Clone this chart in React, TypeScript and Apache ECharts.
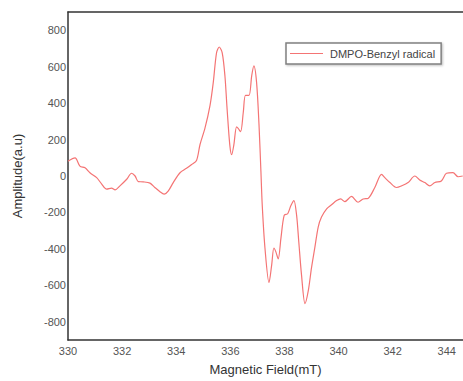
import React, { useEffect, useRef } from "react";
import * as echarts from "echarts";

const fieldMT: number[] = [
  330.0, 330.26, 330.44, 330.63, 330.81, 331.06, 331.24, 331.43, 331.61, 331.74,
  331.92, 332.17, 332.35, 332.48, 332.6, 332.78, 333.03, 333.21, 333.4, 333.55,
  333.71, 333.89, 334.14, 334.38, 334.57, 334.75, 334.88, 335.06, 335.25, 335.37,
  335.49, 335.59, 335.7, 335.8, 335.88, 335.98, 336.05, 336.13, 336.23, 336.29,
  336.38, 336.48, 336.56, 336.69, 336.79, 336.87, 336.97, 337.06, 337.13, 337.18,
  337.28, 337.43, 337.53, 337.61, 337.68, 337.77, 337.87, 337.99, 338.12, 338.24,
  338.35, 338.45, 338.53, 338.63, 338.76, 338.88, 339.0, 339.12, 339.25, 339.37,
  339.56, 339.74, 339.93, 340.08, 340.23, 340.48, 340.72, 340.91, 341.09, 341.34,
  341.59, 341.71, 341.9, 342.14, 342.33, 342.57, 342.82, 343.0, 343.19, 343.37,
  343.56, 343.8, 343.99, 344.23, 344.42, 344.59,
];

const amplitude: number[] = [
  81, 99, 54, 45, 18, -9, -43, -72, -66, -76,
  -54, -18, 15, 0, -31, -32, -39, -63, -86, -99,
  -81, -36, 18, 42, 63, 85, 173, 261, 388, 514,
  676, 708, 676, 550, 369, 171, 117, 171, 270, 261,
  243, 351, 442, 442, 550, 604, 514, 281, 27, -162,
  -395, -585, -486, -395, -415, -455, -342, -216, -207, -162,
  -135, -216, -361, -541, -700, -631, -504, -396, -279, -225,
  -180, -158, -135, -126, -141, -112, -144, -126, -123, -63,
  9, -9, -36, -63, -54, -36, 0, -22, -36, -54,
  -36, -27, 15, 18, -4, 0,
];

const seriesName = "DMPO-Benzyl radical";
const xTicks = { min: 330, max: 344.6, interval: 2 };
const yTicks = { min: -900, max: 900, interval: 100, labelStep: 200 };

export default function App() {
  const ref = useRef<HTMLDivElement>(null);
  useEffect(() => {
    if (!ref.current) return;
    const chart = echarts.init(ref.current, undefined, { renderer: "svg" });
    const font = "Liberation Sans, Arial, sans-serif";
    chart.setOption({
      animation: false,
      backgroundColor: "#ffffff",
      textStyle: { fontFamily: font },
      grid: { left: 68, top: 12, right: 0, bottom: 34, containLabel: false },
      legend: {
        show: true,
        left: 286,
        top: 43,
        orient: "horizontal",
        data: [{ name: seriesName, icon: "rect" }],
        itemWidth: 33,
        itemHeight: 1.2,
        itemGap: 4,
        padding: [5, 6, 5, 4],
        borderColor: "#808080",
        borderWidth: 1.5,
        shadowColor: "rgba(0,0,0,0.25)",
        shadowBlur: 2,
        shadowOffsetX: 1,
        shadowOffsetY: 1,
        backgroundColor: "#fff",
        textStyle: { fontSize: 11, color: "#444", fontFamily: font, padding: [0, 0, 0, 2] },
      },
      xAxis: [
        {
          type: "value",
          min: xTicks.min,
          max: xTicks.max,
          interval: xTicks.interval,
          name: "Magnetic Field(mT)",
          nameLocation: "middle",
          nameGap: 23,
          nameTextStyle: { fontSize: 13, color: "#333", fontFamily: font },
          axisLine: { show: true, onZero: false, lineStyle: { color: "#333", width: 1.5 } },
          axisTick: { show: false },
          splitLine: { show: false },
          axisLabel: {
            fontSize: 11,
            color: "#555",
            margin: 5,
            showMaxLabel: false,
            formatter: (v: number) => String(Math.round(v)),
          },
        },
        {
          type: "value",
          position: "top",
          min: xTicks.min,
          max: xTicks.max,
          axisLine: { show: true, onZero: false, lineStyle: { color: "#333", width: 1.5 } },
          axisTick: { show: false },
          axisLabel: { show: false },
          splitLine: { show: false },
        },
      ],
      yAxis: {
        type: "value",
        min: yTicks.min,
        max: yTicks.max,
        interval: yTicks.interval,
        name: "Amplitude(a.u)",
        nameLocation: "middle",
        nameGap: 44,
        nameTextStyle: { fontSize: 13, color: "#333", fontFamily: font },
        axisLine: { show: true, onZero: false, lineStyle: { color: "#333", width: 1.5 } },
        axisTick: { show: false },
        splitLine: { show: false },
        axisLabel: {
          fontSize: 11,
          color: "#555",
          margin: 2,
          formatter: (v: number) =>
            Math.abs(v) % yTicks.labelStep === 0 && Math.abs(v) < 900 ? String(v) : "",
        },
      },
      series: [
        {
          name: seriesName,
          type: "line",
          xAxisIndex: 0,
          data: fieldMT.map((x, i) => [x, amplitude[i]]),
          symbol: "none",
          showSymbol: false,
          smooth: 0.3,
          lineStyle: { color: "#f47474", width: 1.2 },
          itemStyle: { color: "#f47474" },
        },
      ],
    });
    return () => chart.dispose();
  }, []);
  return <div ref={ref} style={{ width: 463, height: 381, position: "absolute", left: 0, top: 0 }} />;
}
